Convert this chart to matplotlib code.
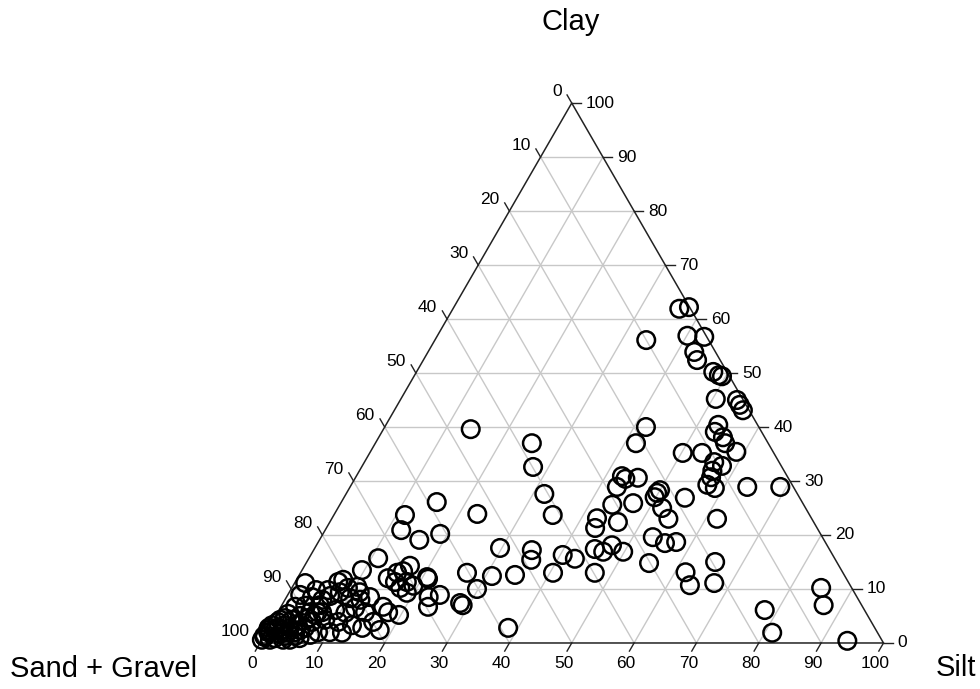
import numpy as np
import matplotlib.pyplot as plt

plt.rcParams['font.family'] = ['Arial', 'Liberation Sans', 'DejaVu Sans']

# sample composition (%), sand + gravel = 100 - silt - clay
silt = [36.3, 37.7, 33.9, 40.1, 42.9, 42.7, 43.9, 47.6, 48.8, 49.4,
        50.5, 54.0, 54.9, 55.9, 53.3, 53.4, 55.2, 56.1, 58.7, 50.2,
        53.3, 56.1, 57.7, 56.6, 57.0, 57.1, 58.6, 63.7, 69.0, 41.9,
        41.8, 42.6, 43.4, 45.3, 42.8, 49.8, 50.0, 49.8, 54.7, 46.9,
        43.7, 52.0, 54.0, 42.5, 43.1, 46.2, 61.8, 53.2, 55.7, 57.4,
        45.0, 46.6, 47.4, 49.8, 40.4, 42.7, 47.2, 55.0, 61.7, 63.6,
        65.5, 67.3, 84.9, 86.9, 77.9, 81.2, 94.0,
        14.0, 25.1, 27.5, 31.8, 15.3, 22.9, 35.1, 11.4, 12.2, 16.0,
        18.8, 29.7, 35.0, 35.8, 40.5, 26.7, 31.0, 34.6, 29.8, 28.4,
        29.0, 38.4,
        16.9, 15.5, 16.3, 20.7, 21.0, 14.5, 16.0, 17.9, 17.4, 19.3,
        18.9, 24.4, 22.8, 23.6, 16.4, 17.7, 19.7, 11.1, 16.2, 18.0,
        9.6, 7.5, 6.9, 10.4, 12.2,
        6.0, 6.9, 8.1, 10.3, 12.1, 9.0, 10.9, 12.0, 14.0, 8.3,
        10.6, 13.1, 15.0, 6.4, 10.2, 11.3, 13.4, 9.0,
        1.7, 2.0, 4.1, 4.1, 2.3, 3.8, 5.2, 3.9, 3.0, 2.3,
        1.5, 0.6, 0.2, 1.9, 3.4, 4.6, 5.8, 6.4, 2.3, 0.0,
        4.5, 5.9, 7.3, 8.3, 1.8, 1.1, 0.3, 0.0, 6.1, 6.0,
        0.3, 1.2, 2.4, 3.4, 4.4, 0.0, 1.3, 3.4, 5.0, 0.9,
        3.5, 5.2, 5.4, 6.2, 7.1, 1.7, 0.1]
clay = [61.9, 62.2, 56.1, 56.9, 56.7, 53.9, 52.4, 50.2, 49.6, 49.4,
        45.2, 45.0, 44.1, 43.1, 40.4, 39.1, 38.1, 37.0, 35.4, 35.2,
        35.2, 33.5, 32.8, 31.9, 30.7, 29.3, 28.7, 28.9, 28.9, 40.0,
        37.0, 30.9, 30.4, 30.6, 28.9, 27.8, 28.3, 27.0, 26.9, 25.9,
        25.6, 25.0, 23.0, 23.1, 21.3, 22.4, 23.0, 19.6, 18.5, 18.7,
        17.4, 16.9, 18.1, 16.9, 16.3, 15.6, 13.0, 14.8, 13.1, 10.7,
        15.0, 11.1, 10.2, 7.0, 6.1, 1.9, 0.4,
        39.6, 37.0, 32.6, 27.6, 26.1, 23.9, 23.7, 23.7, 20.9, 19.1,
        20.2, 17.6, 17.2, 15.4, 13.0, 13.0, 12.4, 12.6, 10.0, 7.4,
        7.0, 2.8,
        14.3, 13.0, 13.3, 12.2, 11.9, 12.0, 11.3, 11.3, 10.2, 10.6,
        9.3, 8.9, 8.5, 6.7, 6.7, 5.7, 5.2, 15.7, 3.9, 2.4,
        13.5, 11.7, 11.3, 10.4, 1.9,
        8.0, 8.7, 9.4, 8.3, 8.0, 6.1, 5.6, 6.5, 5.7, 4.3,
        3.9, 3.3, 2.8, 5.7, 2.0, 9.4, 8.5, 10.2,
        11.1, 8.9, 8.5, 9.8, 6.7, 6.9, 5.7, 5.0, 4.3, 3.3,
        2.8, 2.0, 1.1, 0.9, 1.3, 2.0, 2.8, 3.9, 2.4, 2.8,
        0.6, 0.9, 1.5, 2.0, 5.4, 4.3, 3.3, 0.6, 7.0, 9.8,
        2.0, 2.4, 1.7, 2.8, 3.3, 1.3, 0.6, 0.6, 1.3, 3.9,
        2.0, 2.4, 4.6, 5.2, 5.7, 4.6, 2.4]
ticks = list(range(0, 101, 10))

H = np.sqrt(3) / 2


def tern(s, c):
    s = np.asarray(s, dtype=float)
    c = np.asarray(c, dtype=float)
    return s + c / 2, c * H


fig = plt.figure(figsize=(9.8, 6.89), dpi=100)
ax = fig.add_axes([0, 0, 1, 1])
ax.set_xlim(-41.70, 115.48)
ax.set_ylim(-7.38, 103.13)
ax.axis('off')

# grid
grid_kw = dict(color='#c8c8c8', lw=1.0, zorder=1)
for v in ticks[1:-1]:
    # constant clay
    x, y = tern([0, 100 - v], [v, v])
    ax.plot(x, y, **grid_kw)
    # constant silt
    x, y = tern([v, v], [0, 100 - v])
    ax.plot(x, y, **grid_kw)
    # constant sand
    x, y = tern([100 - v, 0], [0, 100 - v])
    ax.plot(x, y, **grid_kw)

# frame
x, y = tern([0, 100, 0, 0], [0, 0, 100, 0])
ax.plot(x, y, color='#222222', lw=1.1, zorder=2)

tl = 1.5
fs = 12.5
for v in ticks:
    # right axis: clay
    x, y = tern(100 - v, v)
    ax.plot([x, x + tl], [y, y], color='#222222', lw=1.0)
    ax.text(x + 2.3, y, str(v), fontsize=fs, ha='left', va='center')
    # bottom axis: silt
    x, y = tern(v, 0)
    ax.plot([x, x - 0.5 * tl], [y, y - H * tl], color='#222222', lw=1.0)
    ax.text(x - 1.3, y - 3.3, str(v), fontsize=fs, ha='center', va='center')
    # left axis: sand
    x, y = tern(0, 100 - v)
    ax.plot([x, x - 0.5 * tl], [y, y + H * tl], color='#222222', lw=1.0)
    ax.text(x - 1.6, y + 1.85, str(v), fontsize=fs, ha='right', va='center')

px, py = tern(silt, clay)
ax.scatter(px, py, s=160, facecolors='none', edgecolors='black',
           linewidths=1.8, zorder=3)

ax.text(49.9, 99.6, 'Clay', fontsize=21, ha='center', va='center')
ax.text(-40.1, -4.2, 'Sand + Gravel', fontsize=21, ha='left', va='center')
ax.text(108.3, -4.0, 'Silt', fontsize=21, ha='left', va='center')

fig.savefig('out.png', dpi=100)
